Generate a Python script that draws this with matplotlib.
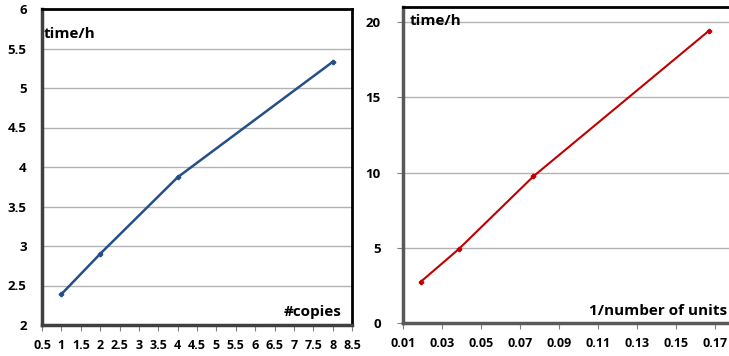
import matplotlib
matplotlib.use("Agg")
import matplotlib.pyplot as plt
import numpy as np

plt.rcParams['font.family'] = ['Open Sans', 'DejaVu Sans']
plt.rcParams['font.weight'] = 'bold'

# left chart: time vs number of copies
copies = [1, 2, 4, 8]
time_copies = [2.39, 2.9, 3.87, 5.33]

# right chart: time vs 1/number of units
inv_units = [0.0192, 0.0385, 0.0769, 0.1667]
time_units = [2.75, 4.9, 9.75, 19.4]

fig = plt.figure(figsize=(7.29, 3.56), dpi=100)

ax1 = fig.add_axes([42/729, 1-325/356, 310/729, 316/356])
ax1.plot(copies, time_copies, color='#254f86', lw=1.8, marker='P', ms=3)
ax1.set_xlim(0.5, 8.5)
ax1.set_ylim(2, 6)
ax1.set_xticks(np.arange(0.5, 8.51, 0.5))
ax1.set_xticklabels(['%g' % v for v in np.arange(0.5, 8.51, 0.5)])
ax1.set_yticks(np.arange(2, 6.01, 0.5))
ax1.set_yticklabels(['%g' % v for v in np.arange(2, 6.01, 0.5)])
ax1.grid(axis='y', color='#b3b3b3', lw=1)
ax1.set_axisbelow(True)
for s in ['top', 'right']:
    ax1.spines[s].set_color('black')
    ax1.spines[s].set_linewidth(2)
for s in ['left', 'bottom']:
    ax1.spines[s].set_color('#404040')
    ax1.spines[s].set_linewidth(2.5)
ax1.tick_params(axis='y', length=0, pad=11, labelsize=9.5)
ax1.tick_params(axis='x', length=4, color='#808080', pad=6, labelsize=9)
ax1.text(0.005, 0.92, 'time/h', transform=ax1.transAxes, fontsize=11, fontweight='bold', va='center')
ax1.text(0.965, 0.04, '#copies', transform=ax1.transAxes, fontsize=11, fontweight='bold', ha='right', va='center')

ax2 = fig.add_axes([403/729, 1-323/356, 351/729, 316/356])
ax2.plot(inv_units, time_units, color='#c00000', lw=1.5, marker='P', ms=3)
ax2.set_xlim(0.01, 0.19)
ax2.set_ylim(0, 21)
ax2.set_xticks(np.arange(0.01, 0.191, 0.02))
ax2.set_xticklabels(['%.2f' % v for v in np.arange(0.01, 0.191, 0.02)])
ax2.set_yticks([0, 5, 10, 15, 20])
ax2.grid(axis='y', color='#b3b3b3', lw=1)
ax2.set_axisbelow(True)
ax2.spines['top'].set_color('black')
ax2.spines['top'].set_linewidth(2)
ax2.spines['right'].set_visible(False)
for s in ['left', 'bottom']:
    ax2.spines[s].set_color('#595959')
    ax2.spines[s].set_linewidth(2.5)
ax2.tick_params(axis='y', length=4, color='#808080', pad=12, labelsize=9.5)
ax2.tick_params(axis='x', length=4, color='#808080', pad=6, labelsize=9)
ax2.text(0.02, 0.955, 'time/h', transform=ax2.transAxes, fontsize=11, fontweight='bold', va='center')
ax2.text(727/729, 1-311/356, '1/number of units', transform=fig.transFigure, fontsize=11,
         fontweight='bold', ha='right', va='center')

fig.savefig('out.png', dpi=100)
